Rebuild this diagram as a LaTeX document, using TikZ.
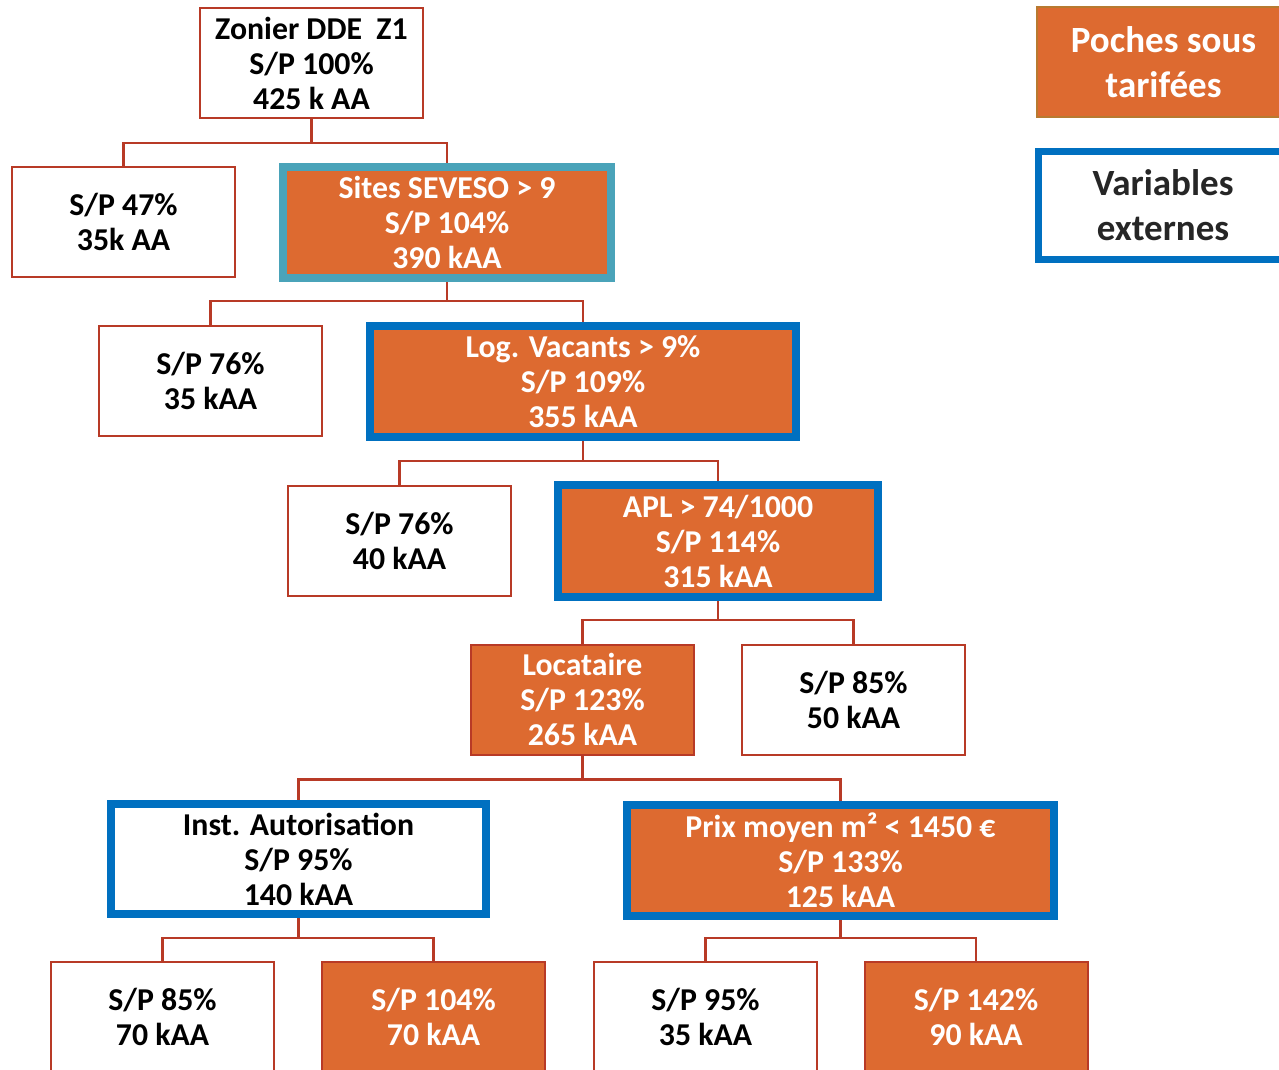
\documentclass[tikz,border=0pt]{standalone}
\usepackage{fontspec}
\setmainfont{Carlito}
\begin{document}
\definecolor{branch}{HTML}{B83A26}
\definecolor{poche}{HTML}{DD6A30}
\definecolor{extvar}{HTML}{0070C0}
\definecolor{seveso}{HTML}{4AA3B9}
\definecolor{legbrown}{HTML}{B87A30}
\definecolor{darktext}{HTML}{262626}
\begin{tikzpicture}[x=1pt,y=-1pt,
  every node/.style={font=\fontsize{31.8}{35}\selectfont\bfseries, align=center, inner sep=0pt},
  leaf/.style={draw=branch, line width=2pt, fill=white, text=black, minimum width=223pt, minimum height=110pt},
  hot/.style={leaf, fill=poche, text=white},
  extbox/.style={draw=extvar, line width=8pt, minimum height=111pt},
  legendfont/.style={font=\fontsize{37}{45}\selectfont\bfseries},
  link/.style={draw=branch, line width=2.4pt}]
\useasboundingbox (0,0) rectangle (1279,1070);
\fill[white] (0,0) rectangle (1279,1070);

% legend
\node[draw=legbrown, line width=2pt, fill=poche, text=white, minimum width=253pt, minimum height=110pt,
      legendfont] (legA) at (1163.5,62) {Poches sous\\tarifées};
\node[draw=extvar, line width=7pt, fill=white, text=darktext, minimum width=250pt, minimum height=108pt,
      legendfont] (legB) at (1163,205) {Variables\\externes};

% tree
\node[leaf] (root) at (311.5,63) {Zonier DDE\ \ Z1\\S/P 100\%\\425 k AA};
\node[leaf] (l1) at (123.5,222) {S/P 47\%\\35k AA};
\node[extbox, draw=seveso, fill=poche, text=white, minimum width=328pt] (sev) at (447,222.5) {Sites SEVESO > 9\\S/P 104\%\\390 kAA};
\node[leaf] (l2) at (210.5,381) {S/P 76\%\\35 kAA};
\node[extbox, fill=poche, text=white, minimum width=426pt] (vac) at (583,381.5) {Log. Vacants > 9\%\\S/P 109\%\\355 kAA};
\node[leaf] (l3) at (399.5,540.5) {S/P 76\%\\40 kAA};
\node[extbox, fill=poche, text=white, minimum width=320pt, minimum height=112pt] (apl) at (718,541) {APL > 74/1000\\S/P 114\%\\315 kAA};
\node[hot] (loc) at (582.5,699.5) {Locataire\\S/P 123\%\\265 kAA};
\node[leaf] (r4) at (853.5,699.5) {S/P 85\%\\50 kAA};
\node[extbox, fill=white, text=black, minimum width=375pt, minimum height=110pt] (inst) at (298.5,859) {Inst. Autorisation\\S/P 95\%\\140 kAA};
\node[extbox, fill=poche, text=white, minimum width=427pt] (prix) at (840.5,860.5) {Prix moyen m² < 1450 €\\S/P 133\%\\125 kAA};
\node[leaf] (b1) at (162.5,1017) {S/P 85\%\\70 kAA};
\node[hot] (b2) at (433.5,1017) {S/P 104\%\\70 kAA};
\node[leaf] (b3) at (705.5,1017) {S/P 95\%\\35 kAA};
\node[hot] (b4) at (976,1017) {S/P 142\%\\90 kAA};

% branches
\draw[link] (root.south) -- ++(0,24) coordinate (j1);
\draw[link] (j1) -| (l1.north);
\draw[link] (j1) -| (sev.north);
\draw[link] (sev.south) -- ++(0,19) coordinate (j2);
\draw[link] (j2) -| (l2.north);
\draw[link] (j2) -| (vac.north);
\draw[link] (vac.south) -- ++(0,20) coordinate (j3);
\draw[link] (j3) -| (l3.north);
\draw[link] (j3) -| (apl.north);
\draw[link] (apl.south) -- ++(0,19) coordinate (j4);
\draw[link] (j4) -| (loc.north);
\draw[link] (j4) -| (r4.north);
\draw[link] (loc.south) -- ++(0,24) coordinate (j5);
\draw[link] (j5) -| (inst.north);
\draw[link] (j5) -| (prix.north);
\draw[link] (inst.south) -- ++(0,20) coordinate (j6);
\draw[link] (j6) -| (b1.north);
\draw[link] (j6) -| (b2.north);
\draw[link] (prix.south) -- ++(0,18) coordinate (j7);
\draw[link] (j7) -| (b3.north);
\draw[link] (j7) -| (b4.north);
\end{tikzpicture}
\end{document}
